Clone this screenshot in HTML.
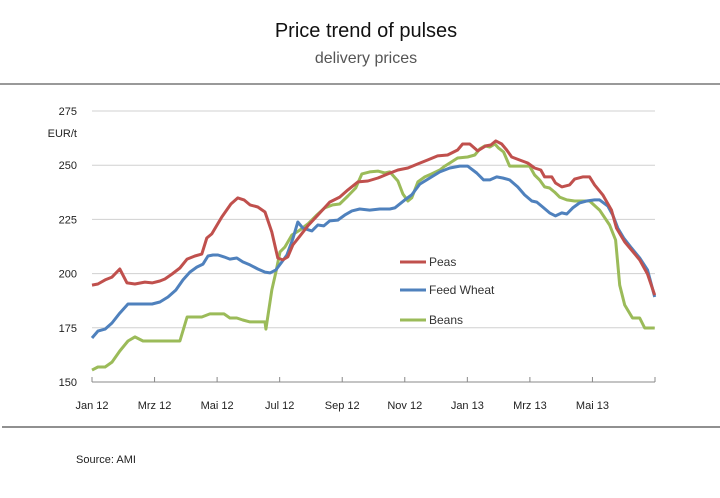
<!DOCTYPE html>
<html><head><meta charset="utf-8"><style>
body{margin:0;background:#fff;width:720px;height:493px;overflow:hidden;font-family:"Liberation Sans",sans-serif}
</style></head><body>
<svg id="chart" width="720" height="493" viewBox="0 0 720 493" xmlns="http://www.w3.org/2000/svg" font-family="Liberation Sans, sans-serif">
<text x="366" y="37" text-anchor="middle" font-size="20" fill="#111">Price trend of pulses</text>
<text x="366" y="63" text-anchor="middle" font-size="16" fill="#555">delivery prices</text>
<line x1="0" y1="84" x2="720" y2="84" stroke="#333" stroke-width="1"/>
<line x1="2" y1="427" x2="720" y2="427" stroke="#222" stroke-width="1"/>
<text x="76" y="463" font-size="11" fill="#222">Source: AMI</text>
<text x="77" y="137" text-anchor="end" font-size="11" fill="#222">EUR/t</text>
<g id="grid"></g><g id="axes"></g><g id="series"></g><g id="legend"></g>
</svg>
<script>
const yTicks=[150,175,200,225,250,275];
const xTickLabels=["Jan 12","Mrz 12","Mai 12","Jul 12","Sep 12","Nov 12","Jan 13","Mrz 13","Mai 13"];
const xTickMonths=[0,2,4,6,8,10,12,14,16];
const peasMonths=[0,.19,.42,.64,.89,1.12,1.37,1.69,1.92,2.17,2.33,2.56,2.81,3.04,3.29,3.51,3.67,3.83,4.15,4.44,4.66,4.86,5.05,5.3,5.53,5.75,5.94,6.1,6.26,6.42,6.65,6.9,7.22,7.6,7.92,8.18,8.5,8.82,9.14,9.46,9.78,10.1,10.42,10.73,11.05,11.37,11.69,11.85,12.08,12.33,12.59,12.75,12.91,13.1,13.26,13.42,13.67,13.93,14.15,14.35,14.47,14.7,14.82,15.02,15.27,15.43,15.69,15.91,16.07,16.33,16.61,16.77,17.03,17.25,17.51,17.76,17.99];
const peasValues=[194.7,195.2,197.1,198.4,202.1,195.7,195.2,196.1,195.7,196.6,197.5,199.8,202.6,206.7,208.1,209.0,216.4,218.3,226.1,232.1,234.9,234.0,231.7,230.7,228.4,219.2,207.2,206.3,207.7,213.2,217.4,222.0,227.0,233.0,235.3,238.6,242.3,242.7,244.1,246.0,247.8,248.7,250.6,252.4,254.3,254.7,257.0,259.8,259.8,256.6,258.9,259.3,261.2,259.8,257.0,253.8,252.4,251.0,248.7,247.8,244.6,244.6,241.8,240.0,240.9,243.6,244.6,244.6,240.9,236.3,229.3,221.0,214.6,210.9,206.3,199.8,190.1];
const wheatMonths=[0,.19,.42,.64,.89,1.15,1.37,1.69,1.92,2.17,2.43,2.68,2.91,3.13,3.35,3.55,3.71,3.87,4.03,4.22,4.41,4.63,4.82,5.05,5.3,5.53,5.69,5.88,6.07,6.23,6.42,6.58,6.74,7.03,7.22,7.41,7.6,7.86,8.08,8.31,8.56,8.88,9.2,9.52,9.68,10,10.22,10.48,10.8,11.12,11.44,11.76,12.01,12.3,12.52,12.72,12.94,13.13,13.35,13.61,13.83,14.06,14.22,14.41,14.63,14.82,15.02,15.18,15.37,15.59,15.81,16.07,16.23,16.49,16.65,16.81,17,17.25,17.51,17.76,17.99];
const wheatValues=[170.3,173.5,174.4,177.2,181.8,186.0,186.0,186.0,186.0,186.9,189.2,192.4,197.1,200.7,203.0,204.4,208.1,208.6,208.6,207.7,206.7,207.2,205.4,204.0,202.1,200.7,200.3,201.7,205.4,208.6,216.0,223.8,221.0,219.7,222.4,222.0,224.3,224.7,227.0,228.9,229.8,229.3,229.8,229.8,230.3,234.0,236.3,241.3,244.1,246.9,248.7,249.6,249.6,246.4,243.2,243.2,244.6,244.1,243.2,240.0,236.3,233.5,233.0,230.7,228.0,226.6,228.0,227.5,230.3,232.6,233.5,234.0,234.0,231.2,227.0,221.0,216.4,211.8,207.2,201.7,189.2];
const beansMonths=[0,.19,.42,.64,.89,1.15,1.37,1.63,1.85,2.17,2.49,2.81,3.04,3.29,3.51,3.77,4.03,4.22,4.41,4.63,4.82,5.05,5.3,5.53,5.56,5.75,5.88,6.01,6.17,6.39,6.65,6.9,7.16,7.44,7.7,7.92,8.18,8.43,8.63,8.88,9.14,9.36,9.52,9.78,9.94,10.1,10.22,10.42,10.64,10.86,11.12,11.28,11.44,11.69,12.01,12.24,12.4,12.56,12.72,12.88,13,13.16,13.35,13.67,13.99,14.15,14.31,14.47,14.63,14.79,14.95,15.18,15.43,15.91,16.23,16.55,16.74,16.87,17.03,17.28,17.51,17.67,17.99];
const beansValues=[155.5,156.9,156.9,159.2,164.3,168.9,170.8,168.9,168.9,168.9,168.9,168.9,180,180,180,181.4,181.4,181.4,179.5,179.5,178.6,177.7,177.7,177.7,174.4,192.4,200.7,210,212.3,217.8,220.1,222.9,226.6,230.3,231.7,232.1,235.8,239.5,246,246.9,247.3,246.4,246.9,242.7,236.7,233.5,234.9,242.3,244.6,246,247.8,249.6,251,253.3,253.8,254.7,257.5,258.9,258.4,259.8,257.9,256.1,249.6,249.6,249.6,245.5,243.2,240,239.5,237.6,235.3,234,233.5,233.5,229.3,222.4,215.5,194.7,185.5,179.5,179.5,174.9,174.9];
const seriesNames=["Peas","Feed Wheat","Beans"];

const NS="http://www.w3.org/2000/svg";
const X0=92,X1=655,Y0=382,Y1=111;
function xs(m){return X0+(m/18)*(X1-X0);}
function ys(v){return Y0-(v-150)/125*(Y0-Y1);}
function mk(tag,attrs,parent){const e=document.createElementNS(NS,tag);for(const k in attrs)e.setAttribute(k,attrs[k]);parent.appendChild(e);return e;}
const grid=document.getElementById('grid'),axes=document.getElementById('axes'),ser=document.getElementById('series'),leg=document.getElementById('legend');
yTicks.forEach(v=>{
  if(v>150){const l=mk('line',{x1:X0,x2:X1,y1:ys(v),y2:ys(v),stroke:'#d0d0d0','stroke-width':1},grid);
  
  }
  const t=mk('text',{x:77,y:ys(v)+4,'text-anchor':'end','font-size':11,fill:'#222'},axes);t.textContent=v;
  
  
});
const ax=mk('line',{x1:X0,x2:X1,y1:Y0,y2:Y0,stroke:'#888','stroke-width':1},axes);


for(let m=0;m<=18;m+=2){const tk=mk('line',{x1:xs(m),x2:xs(m),y1:Y0,y2:Y0-5,stroke:'#888','stroke-width':1},axes);
  
  }
xTickLabels.forEach((lab,i)=>{const t=mk('text',{x:xs(xTickMonths[i]),y:409,'text-anchor':'middle','font-size':11,fill:'#222'},axes);t.textContent=lab;
  
  });
const colors=["#C0504D","#4F81BD","#9BBB59"];
const data=[[peasMonths,peasValues],[wheatMonths,wheatValues],[beansMonths,beansValues]];
[2,1,0].forEach(i=>{const [ms,vs]=data[i];
  const d=ms.map((m,j)=>(j?'L':'M')+xs(m).toFixed(1)+','+ys(vs[j]).toFixed(1)).join('');
  const p=mk('path',{d:d,fill:'none',stroke:colors[i],'stroke-width':3,'stroke-linejoin':'round'},ser);
  
  });
const legY=[262,290,320];
seriesNames.forEach((n,i)=>{
  const l=mk('line',{x1:400,x2:426,y1:legY[i],y2:legY[i],stroke:colors[i],'stroke-width':3},leg);
  
  
  const t=mk('text',{x:429,y:legY[i]+4,'font-size':12,fill:'#333'},leg);t.textContent=n;
  
  
});
</script>
</body></html>
